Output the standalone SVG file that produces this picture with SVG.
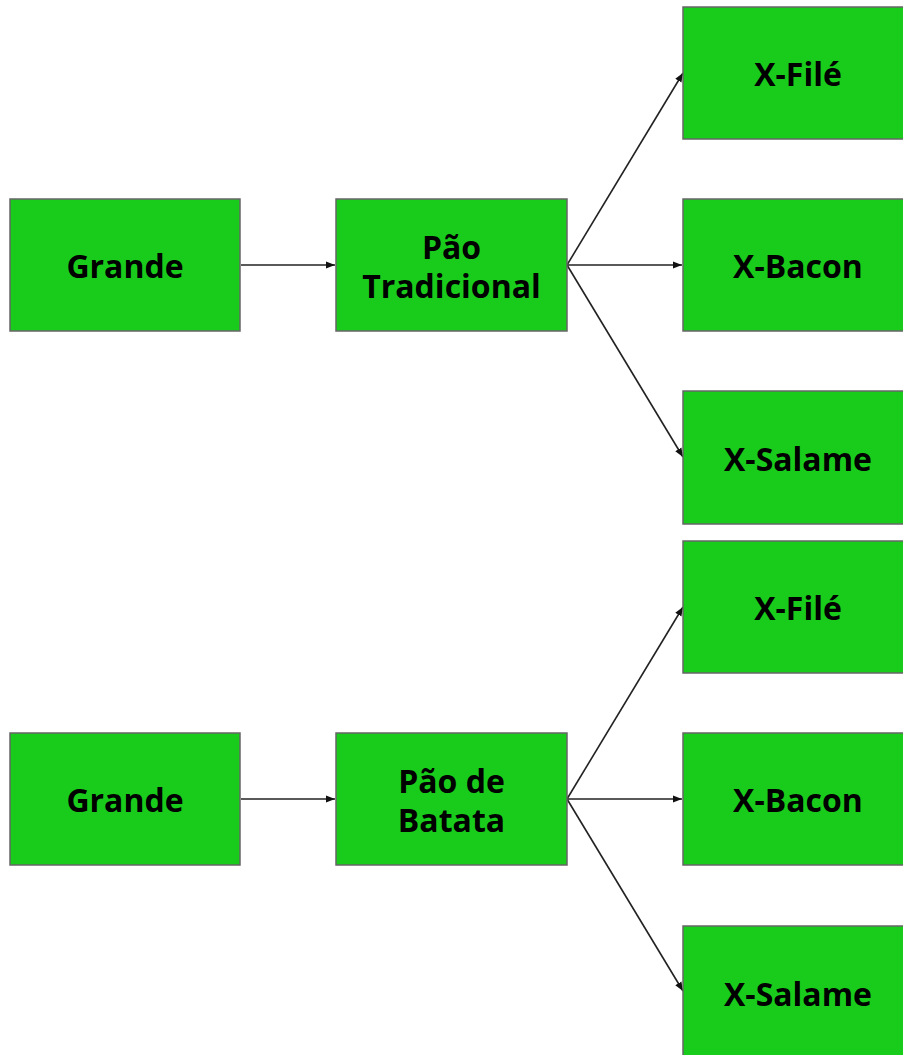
<svg xmlns="http://www.w3.org/2000/svg" width="903" height="1055" viewBox="0 0 903 1055">
<style>
.box{fill:#19cc1c;stroke:#666;stroke-width:1.5}
.t{font-family:"Open Sans","Noto Sans","Liberation Sans",sans-serif;font-weight:bold;font-size:32px;fill:#000;text-anchor:middle}
.c{stroke:#222;stroke-width:1.6;fill:none;marker-end:url(#a)}
</style>
<defs>
<marker id="a" viewBox="0 0 10 10" refX="10" refY="5" markerWidth="9" markerHeight="9" markerUnits="userSpaceOnUse" orient="auto">
<path d="M0,1 L10,5 L0,9 Z" fill="#111"/>
</marker>
</defs>
<rect width="903" height="1055" fill="#fff"/>
<g id="connectors">
<line class="c" x1="241" y1="265" x2="335" y2="265"/>
<line class="c" x1="567" y1="265" x2="683" y2="73"/>
<line class="c" x1="567" y1="265" x2="682" y2="265"/>
<line class="c" x1="567" y1="265" x2="683" y2="457"/>
<line class="c" x1="241" y1="799" x2="335" y2="799"/>
<line class="c" x1="567" y1="799" x2="683" y2="607"/>
<line class="c" x1="567" y1="799" x2="682" y2="799"/>
<line class="c" x1="567" y1="799" x2="683" y2="991"/>
</g>
<g id="grande1"><rect class="box" x="10" y="199" width="230" height="132"/><text class="t" x="125" y="278">Grande</text></g>
<g id="pao-tradicional"><rect class="box" x="336" y="199" width="231" height="132"/><text class="t" x="451.5" y="259">Pão</text><text class="t" x="451.5" y="298">Tradicional</text></g>
<g id="xfile1"><rect class="box" x="683" y="7" width="230" height="132"/><text class="t" x="798" y="86">X-Filé</text></g>
<g id="xbacon1"><rect class="box" x="683" y="199" width="230" height="132"/><text class="t" x="798" y="278">X-Bacon</text></g>
<g id="xsalame1"><rect class="box" x="683" y="391" width="230" height="133"/><text class="t" x="798" y="471">X-Salame</text></g>
<g id="grande2"><rect class="box" x="10" y="733" width="230" height="132"/><text class="t" x="125" y="812">Grande</text></g>
<g id="pao-batata"><rect class="box" x="336" y="733" width="231" height="132"/><text class="t" x="451.5" y="793">Pão de</text><text class="t" x="451.5" y="832">Batata</text></g>
<g id="xfile2"><rect class="box" x="683" y="541" width="230" height="132"/><text class="t" x="798" y="620">X-Filé</text></g>
<g id="xbacon2"><rect class="box" x="683" y="733" width="230" height="132"/><text class="t" x="798" y="812">X-Bacon</text></g>
<g id="xsalame2"><rect class="box" x="683" y="926" width="230" height="132"/><text class="t" x="798" y="1006">X-Salame</text></g>
</svg>
